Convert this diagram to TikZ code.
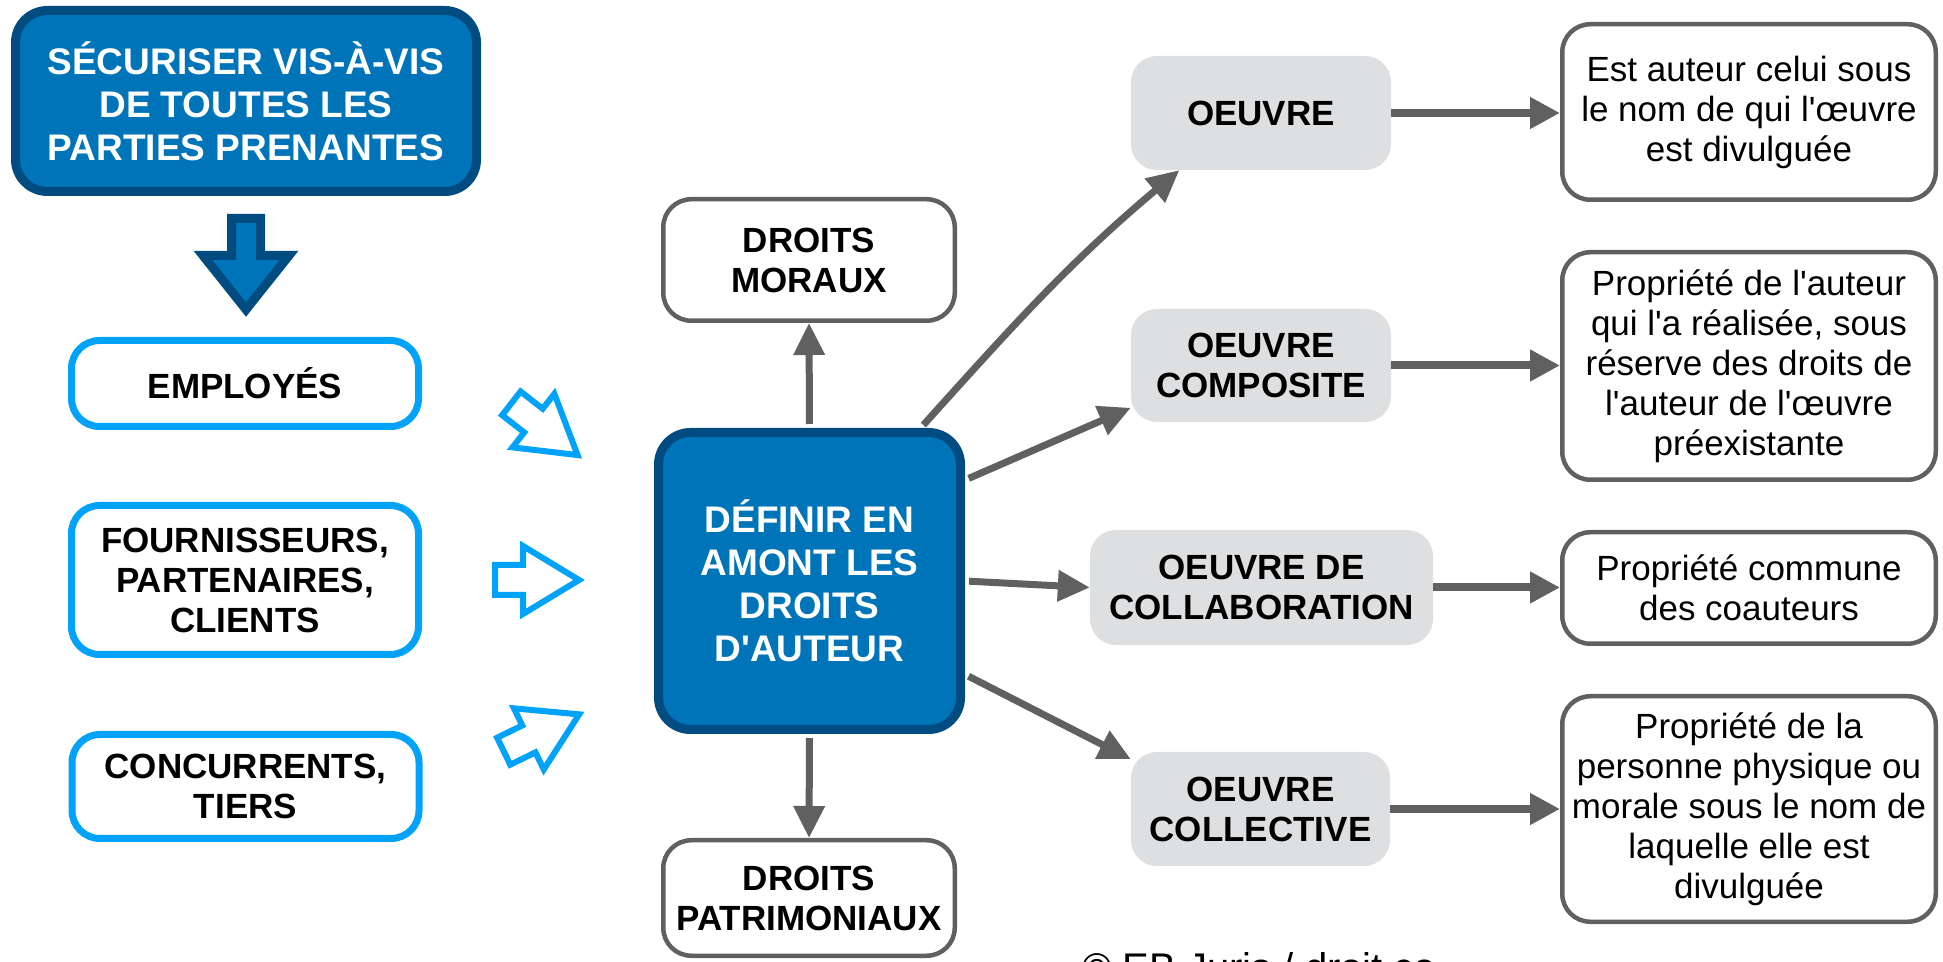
\documentclass[tikz,border=0pt]{standalone}
\usepackage{fontspec}
\setmainfont{Liberation Sans}
\usetikzlibrary{arrows.meta}
\definecolor{dblue}{HTML}{004C80}
\definecolor{mblue}{HTML}{0074B8}
\definecolor{lblue}{HTML}{00A2FA}
\definecolor{cgray}{HTML}{606060}
\definecolor{bgray}{HTML}{DEDFE1}
\newcommand{\aq}{\textquotesingle}
\begin{document}
\begin{tikzpicture}[x=1pt,y=1pt,
  bluebox/.style={draw=dblue, line width=9pt, fill=mblue, rounded corners=32pt, inner sep=0pt,
    text=white, font=\fontsize{37pt}{43pt}\selectfont\bfseries, align=center},
  lbox/.style={draw=lblue, line width=7pt, fill=white, rounded corners=28pt, inner sep=0pt,
    minimum width=347pt, text=black, font=\fontsize{35pt}{40pt}\selectfont\bfseries, align=center},
  wbox/.style={draw=cgray, line width=4.5pt, fill=white, rounded corners=28pt, inner sep=0pt,
    text=black, align=center},
  boldtxt/.style={font=\fontsize{35pt}{40pt}\selectfont\bfseries},
  regtxt/.style={font=\fontsize{35pt}{40pt}\selectfont},
  gbox/.style={fill=bgray, rounded corners=26pt, inner sep=0pt, text=black,
    font=\fontsize{35pt}{40pt}\selectfont\bfseries, align=center},
  conn/.style={draw=cgray, line width=7pt, -{Triangle[length=32pt,width=30pt]}, shorten <=4pt},
  hconn/.style={draw=cgray, line width=8pt, -{Triangle[length=30pt,width=30pt]}},
  harrow/.style={draw=lblue, line width=6pt, fill=white, line join=miter},
  bigarrow/.style={draw=dblue, line width=9pt, fill=mblue, line join=miter}
]
\useasboundingbox (0,0) rectangle (1943,961);
\clip (0,0) rectangle (1943,961);

% top box and down arrow
\node[bluebox, minimum width=461pt, minimum height=181pt] (sec) at (246,860)
  {SÉCURISER VIS-À-VIS\\DE TOUTES LES\\PARTIES PRENANTES};
\draw[bigarrow] (231.5,742.5) -- (260.5,742.5) -- (260.5,705.5) -- (289,705.5)
  -- (246,651.5) -- (203,705.5) -- (231.5,705.5) -- cycle;

% left boxes
\node[lbox, minimum height=86pt] (emp) at (245,577.5) {EMPLOYÉS};
\node[lbox, minimum height=149pt] (four) at (245,381) {FOURNISSEURS,\\PARTENAIRES,\\CLIENTS};
\node[lbox, minimum height=104pt] (conc) at (245.5,174.5) {CONCURRENTS,\\TIERS};

% hollow arrows
\draw[harrow, shift={(509,559.5)}, rotate=-38]
  (3,-15) -- (31,-15) -- (31,-34) -- (87,0) -- (31,34) -- (31,15) -- (3,15) -- cycle;
\draw[harrow, shift={(492,381)}]
  (3,-15) -- (31,-15) -- (31,-34) -- (87,0) -- (31,34) -- (31,15) -- (3,15) -- cycle;
\draw[harrow, shift={(501,208.5)}, rotate=26]
  (3,-15) -- (31,-15) -- (31,-34) -- (87,0) -- (31,34) -- (31,15) -- (3,15) -- cycle;

% centre box
\node[bluebox, minimum width=302pt, minimum height=297pt] (c) at (809.5,380)
  {DÉFINIR EN\\AMONT LES\\DROITS\\D\aq AUTEUR};

% droits boxes
\node[wbox, boldtxt, minimum width=291.5pt, minimum height=121.5pt] (mor) at (809,701) {DROITS\\MORAUX};
\node[wbox, boldtxt, minimum width=291.5pt, minimum height=115.5pt] (pat) at (809,63) {DROITS\\PATRIMONIAUX};

% grey boxes
\node[gbox, minimum width=260pt, minimum height=114pt] (o1) at (1261,848) {OEUVRE};
\node[gbox, minimum width=260pt, minimum height=113pt] (o2) at (1261,595.5) {OEUVRE\\COMPOSITE};
\node[gbox, minimum width=343pt, minimum height=115pt] (o3) at (1261.5,373.5) {OEUVRE DE\\COLLABORATION};
\node[gbox, minimum width=259pt, minimum height=114pt] (o4) at (1260.5,152) {OEUVRE\\COLLECTIVE};

% right boxes
\node[wbox, regtxt, minimum width=373.5pt, minimum height=175.5pt] (r1) at (1749,849)
  {Est auteur celui sous\\le nom de qui l\aq œuvre\\est divulguée};
\node[wbox, regtxt, minimum width=373.5pt, minimum height=227.5pt] (r2) at (1749,595)
  {Propriété de l\aq auteur\\qui l\aq a réalisée, sous\\réserve des droits de\\l\aq auteur de l\aq œuvre\\préexistante};
\node[wbox, regtxt, minimum width=373.5pt, minimum height=111.5pt] (r3) at (1749,373)
  {Propriété commune\\des coauteurs};
\node[wbox, regtxt, minimum width=373.5pt, minimum height=225.5pt] (r4) at (1749,152)
  {Propriété de la\\personne physique ou\\morale sous le nom de\\laquelle elle est\\divulguée};

% connectors from centre
\draw[conn] (c.north) -- (mor.south);
\draw[conn] (c.south) -- (pat.north);
\draw[conn] (c.54) to[out=48,in=220] (o1.215);
\draw[conn] (c.33) -- (o2.198);
\draw[conn] (c.east) -- (o3.west);
\draw[conn] (c.329) -- (o4.159);

% connectors to right boxes
\draw[hconn] (o1.east) -- (o1.east -| r1.west);
\draw[hconn] (o2.east) -- (o2.east -| r2.west);
\draw[hconn] (o3.east) -- (o3.east -| r3.west);
\draw[hconn] (o4.east) -- (o4.east -| r4.west);

% copyright (cut off at the bottom edge, as in the reference)
\node[anchor=base west, inner sep=0pt, font=\fontsize{40pt}{48pt}\selectfont] (copy) at (1082,-20)
  {© EB Juris / droit.co};
\end{tikzpicture}
\end{document}
